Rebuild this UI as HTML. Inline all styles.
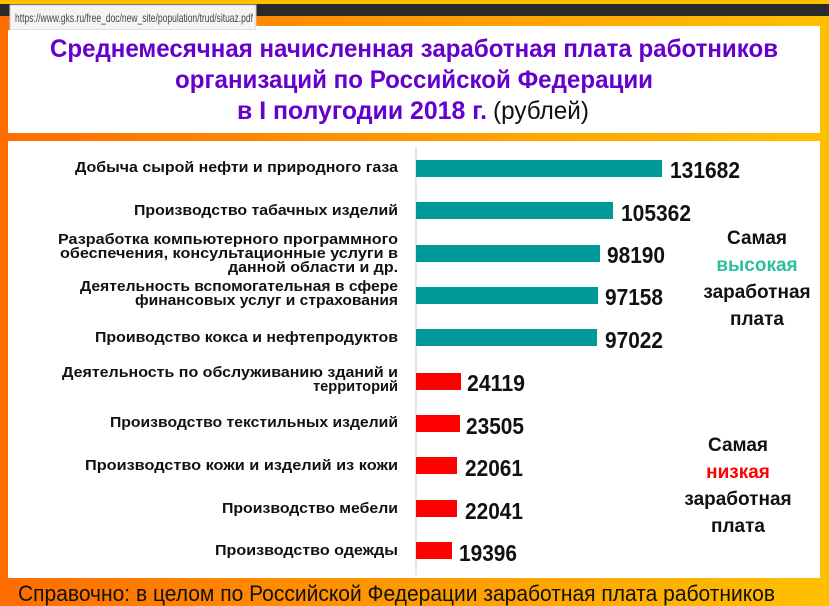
<!DOCTYPE html>
<html><head><meta charset="utf-8"><style>
html,body{margin:0;padding:0;width:829px;height:606px;overflow:hidden}
</style></head><body>
<svg width="829" height="606" xmlns="http://www.w3.org/2000/svg" font-family="Liberation Sans, sans-serif">
<defs>
<linearGradient id="bg" x1="0" y1="0" x2="1" y2="0">
<stop offset="0" stop-color="#ff6c00"/><stop offset="0.5" stop-color="#ff9a00"/><stop offset="1" stop-color="#ffc000"/>
</linearGradient>
</defs>
<rect width="829" height="606" fill="url(#bg)"/>
<rect x="0" y="0" width="829" height="4" fill="#ffc000"/>
<rect x="0" y="4" width="829" height="12" fill="#2a2a2a"/>
<rect x="10" y="5" width="246" height="25" fill="#f4f4f4" stroke="#ccc"/>
<text x="15" y="22" font-size="12" fill="#444" textLength="238" lengthAdjust="spacingAndGlyphs">https://www.gks.ru/free_doc/new_site/population/trud/situaz.pdf</text>
<rect x="8" y="30" width="812" height="103" fill="#fff"/>
<rect x="256" y="26" width="564" height="6" fill="#fff"/>
<g font-weight="bold" fill="#6600cc" font-size="25" text-anchor="middle">
<text x="414" y="57" textLength="728" lengthAdjust="spacingAndGlyphs">Среднемесячная начисленная заработная плата работников</text>
<text x="414" y="88" textLength="478" lengthAdjust="spacingAndGlyphs">организаций по Российской Федерации</text>
</g>
<text x="237" y="119" font-size="25" fill="#6600cc" font-weight="bold" textLength="250" lengthAdjust="spacingAndGlyphs">в I полугодии 2018 г.</text>
<text x="493" y="119" font-size="25" fill="#111" textLength="96" lengthAdjust="spacingAndGlyphs">(рублей)</text>
<rect x="8" y="141" width="812" height="437" fill="#fff"/>
<line x1="416" y1="147" x2="416" y2="575" stroke="#ccc" stroke-width="1"/>
<g fill="#009999">
<rect x="416" y="160" width="246" height="17"/>
<rect x="416" y="202" width="197" height="17"/>
<rect x="416" y="245" width="184" height="17"/>
<rect x="416" y="287" width="182" height="17"/>
<rect x="416" y="329" width="181" height="17"/>
</g>
<g fill="#ff0000">
<rect x="416" y="373" width="45" height="17"/>
<rect x="416" y="415" width="44" height="17"/>
<rect x="416" y="457" width="41" height="17"/>
<rect x="416" y="500" width="41" height="17"/>
<rect x="416" y="542" width="36" height="17"/>
</g>
<g font-weight="bold" font-size="23" fill="#111" lengthAdjust="spacingAndGlyphs">
<text x="670" y="178" textLength="70" lengthAdjust="spacingAndGlyphs">131682</text>
<text x="621" y="221" textLength="70" lengthAdjust="spacingAndGlyphs">105362</text>
<text x="607" y="263" textLength="58" lengthAdjust="spacingAndGlyphs">98190</text>
<text x="605" y="305" textLength="58" lengthAdjust="spacingAndGlyphs">97158</text>
<text x="605" y="348" textLength="58" lengthAdjust="spacingAndGlyphs">97022</text>
<text x="467" y="391" textLength="58" lengthAdjust="spacingAndGlyphs">24119</text>
<text x="466" y="434" textLength="58" lengthAdjust="spacingAndGlyphs">23505</text>
<text x="465" y="476" textLength="58" lengthAdjust="spacingAndGlyphs">22061</text>
<text x="465" y="519" textLength="58" lengthAdjust="spacingAndGlyphs">22041</text>
<text x="459" y="561" textLength="58" lengthAdjust="spacingAndGlyphs">19396</text>
</g>
<g font-weight="bold" font-size="14.5" fill="#111" text-anchor="end">
<text x="398" y="172" textLength="323" lengthAdjust="spacingAndGlyphs">Добыча сырой нефти и природного газа</text>
<text x="398" y="215" textLength="264" lengthAdjust="spacingAndGlyphs">Производство табачных изделий</text>
<text x="398" y="244" textLength="340" lengthAdjust="spacingAndGlyphs">Разработка компьютерного программного</text>
<text x="398" y="258" textLength="338" lengthAdjust="spacingAndGlyphs">обеспечения, консультационные услуги в</text>
<text x="398" y="272" textLength="170" lengthAdjust="spacingAndGlyphs">данной области и др.</text>
<text x="398" y="291" textLength="318" lengthAdjust="spacingAndGlyphs">Деятельность вспомогательная в сфере</text>
<text x="398" y="305" textLength="263" lengthAdjust="spacingAndGlyphs">финансовых услуг и страхования</text>
<text x="398" y="342" textLength="303" lengthAdjust="spacingAndGlyphs">Проиводство кокса и нефтепродуктов</text>
<text x="398" y="377" textLength="336" lengthAdjust="spacingAndGlyphs">Деятельность по обслуживанию зданий и</text>
<text x="398" y="391" textLength="85" lengthAdjust="spacingAndGlyphs">территорий</text>
<text x="398" y="427" textLength="288" lengthAdjust="spacingAndGlyphs">Производство текстильных изделий</text>
<text x="398" y="470" textLength="313" lengthAdjust="spacingAndGlyphs">Производство кожи и изделий из кожи</text>
<text x="398" y="513" textLength="176" lengthAdjust="spacingAndGlyphs">Производство мебели</text>
<text x="398" y="555" textLength="183" lengthAdjust="spacingAndGlyphs">Производство одежды</text>
</g>
<g font-weight="bold" font-size="19" text-anchor="middle" fill="#111">
<text x="757" y="244">Самая</text>
<text x="757" y="271" fill="#2bbf9f">высокая</text>
<text x="757" y="298">заработная</text>
<text x="757" y="325">плата</text>
<text x="738" y="451">Самая</text>
<text x="738" y="478" fill="#ff0000">низкая</text>
<text x="738" y="505">заработная</text>
<text x="738" y="532">плата</text>
</g>
<text x="18" y="601" font-size="22" fill="#111" textLength="757" lengthAdjust="spacingAndGlyphs">Справочно: в целом по Российской Федерации заработная плата работников</text>
</svg>
</body></html>
